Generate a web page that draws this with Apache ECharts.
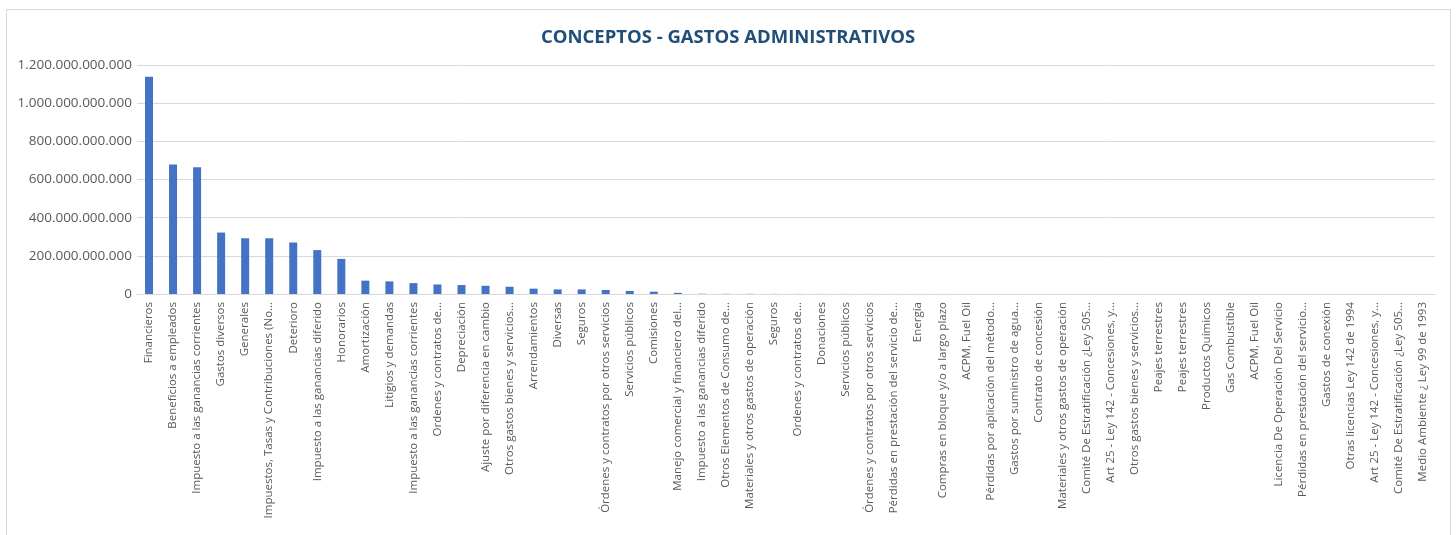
<!DOCTYPE html>
<html>
<head>
<meta charset="utf-8">
<script src="https://cdn.jsdelivr.net/npm/echarts@6/dist/echarts.min.js"></script>
<style>
  html, body { margin: 0; padding: 0; background: #fff; }
  #frame { position: absolute; left: 6px; top: 9px; width: 1443px; height: 540px; border: 1px solid #d9d9d9; }
  #chart { position: absolute; left: 0; top: 0; width: 1456px; height: 535px; }
</style>
</head>
<body>
<div id="frame"></div>
<div id="chart"></div>
<script>
// categories as they show on the axis
const categories = [
  'Financieros',
  'Beneficios a empleados',
  'Impuesto a las ganancias corrientes',
  'Gastos diversos',
  'Generales',
  'Impuestos, Tasas y Contribuciones (No…',
  'Deterioro',
  'Impuesto a las ganancias diferido',
  'Honorarios',
  'Amortización',
  'Litigios y demandas',
  'Impuesto a las ganancias corrientes',
  'Ordenes y contratos de…',
  'Depreciación',
  'Ajuste por diferencia en cambio',
  'Otros gastos bienes y servicios…',
  'Arrendamientos',
  'Diversas',
  'Seguros',
  'Órdenes y contratos por otros servicios',
  'Servicios públicos',
  'Comisiones',
  'Manejo comercial y financiero del…',
  'Impuesto a las ganancias diferido',
  'Otros Elementos de Consumo de…',
  'Materiales y otros gastos de operación',
  'Seguros',
  'Ordenes y contratos de…',
  'Donaciones',
  'Servicios públicos',
  'Órdenes y contratos por otros servicios',
  'Pérdidas en prestación del servicio de…',
  'Energía',
  'Compras en bloque y/o a largo plazo',
  'ACPM, Fuel Oil',
  'Pérdidas por aplicación del método…',
  'Gastos por suministro de agua…',
  'Contrato de concesión',
  'Materiales y otros gastos de operación',
  'Comité De Estratificación ¿Ley 505…',
  'Art 25 - Ley 142 - Concesiones, y…',
  'Otros gastos bienes y servicios…',
  'Peajes terrestres',
  'Peajes terrestres',
  'Productos Químicos',
  'Gas Combustible',
  'ACPM, Fuel Oil',
  'Licencia De Operación Del Servicio',
  'Pérdidas en prestación del servicio…',
  'Gastos de conexión',
  'Otras licencias Ley 142 de 1994',
  'Art 25 - Ley 142 - Concesiones, y…',
  'Comité De Estratificación ¿Ley 505…',
  'Medio Ambiente ¿ Ley 99 de 1993'
]

// values
const values = [
  1139e9, 678e9, 664e9, 322e9, 292e9, 292e9, 270e9, 230e9, 184e9, 70e9,
  66e9, 57e9, 50e9, 47e9, 43e9, 38e9, 28e9, 24e9, 24e9, 21e9,
  16e9, 12e9, 6e9, 1.2e9, 0.9e9, 0.8e9, 0.6e9, 0.5e9, 0.4e9, 0.35e9,
  0.3e9, 0.25e9, 0.2e9, 0.18e9, 0.15e9, 0.12e9, 0.1e9, 0.08e9, 0.07e9, 0.06e9,
  0.05e9, 0.04e9, 0.035e9, 0.03e9, 0.025e9, 0.02e9, 0.015e9, 0.012e9, 0.01e9, 0.008e9,
  0.006e9, 0.004e9, 0.002e9, 0.001e9
]

const yTicks = { min: 0, max: 1200000000000, interval: 200000000000 }

function fmt (v) {
  return String(v).replace(/\B(?=(\d{3})+(?!\d))/g, '.')
}

const myChart = echarts.init(document.getElementById('chart'), null, { renderer: 'canvas' })
const option = {
  animation: false,
  title: {
    text: 'CONCEPTOS - GASTOS ADMINISTRATIVOS',
    left: 'center',
    top: 23,
    textStyle: { fontFamily: 'Open Sans', fontWeight: 'bold', fontSize: 18.5, color: '#1f4e79' }
  },
  grid: { left: 137, right: 21, top: 65, bottom: 241, containLabel: false },
  xAxis: {
    type: 'category',
    data: categories,
    axisTick: { show: false },
    axisLine: { lineStyle: { color: '#d9d9d9', width: 1 } },
    axisLabel: {
      interval: 0,
      rotate: 90,
      fontFamily: 'Open Sans',
      fontSize: 11.5,
      color: '#595959',
      margin: 8
    }
  },
  yAxis: {
    type: 'value',
    min: yTicks.min,
    max: yTicks.max,
    interval: yTicks.interval,
    axisLine: { show: false },
    axisTick: { show: false },
    splitLine: { lineStyle: { color: '#d9d9d9', width: 1 } },
    axisLabel: {
      formatter: fmt,
      fontFamily: 'Open Sans',
      fontSize: 13.5,
      color: '#595959',
      margin: 5
    }
  },
  series: [{
    type: 'bar',
    data: values,
    barWidth: 8,
    itemStyle: { color: '#4472c4' }
  }]
}
myChart.setOption(option)
</script>
</body>
</html>
